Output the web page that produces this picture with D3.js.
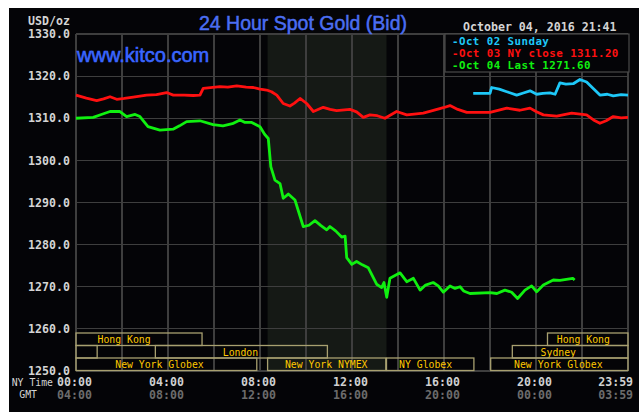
<!DOCTYPE html>
<html>
<head>
<meta charset="utf-8">
<script src="https://cdn.jsdelivr.net/npm/d3@7/dist/d3.min.js"></script>
<style>
  html, body { margin: 0; padding: 0; background: #ffffff; }
  svg { display: block; }
</style>
</head>
<body>
<svg id="chart" width="644" height="412"></svg>
<script>
// ---------------- DATA ----------------
const yTicks = [1250, 1260, 1270, 1280, 1290, 1300, 1310, 1320, 1330];
const gridHours = [0, 2, 4, 6, 8, 10, 12, 14, 16, 18, 20, 22, 24];
const labelHours = [0, 4, 8, 12, 16, 20, 23.983];
const nyTimeLabels = ["00:00", "04:00", "08:00", "12:00", "16:00", "20:00", "23:59"];
const gmtLabels = ["04:00", "08:00", "12:00", "16:00", "20:00", "00:00", "03:59"];

// [hour (NY time), price]
const oct02Sunday = [
  [17.27, 1315.9], [18.0, 1315.9], [18.07, 1317.3], [18.4, 1316.9], [18.73, 1316.3],
  [19.16, 1315.5], [19.45, 1316.0], [19.74, 1316.5], [20.03, 1315.7], [20.3, 1315.9],
  [20.61, 1316.0], [20.83, 1315.7], [21.04, 1318.4], [21.3, 1318.1], [21.62, 1318.2],
  [21.91, 1319.2], [22.2, 1318.6], [22.5, 1317.0], [22.78, 1315.5], [23.1, 1315.7],
  [23.36, 1315.3], [23.7, 1315.6], [24.0, 1315.5]
];
const oct03Close = [
  [0, 1315.5], [0.45, 1314.8], [0.9, 1314.2], [1.2, 1314.6], [1.48, 1315.1], [1.77, 1314.5],
  [2.1, 1314.7], [2.49, 1315.0], [3.07, 1315.5], [3.5, 1315.6], [3.94, 1316.1], [4.23, 1315.5],
  [4.7, 1315.5], [5.1, 1315.4], [5.39, 1315.5], [5.53, 1317.1], [6.26, 1317.5], [6.6, 1317.4],
  [6.99, 1317.7], [7.4, 1317.4], [7.71, 1317.3], [8.0, 1316.9], [8.29, 1316.7], [8.5, 1316.3],
  [8.73, 1315.5], [9.01, 1313.5], [9.3, 1312.9], [9.5, 1313.6], [9.74, 1314.7], [10.03, 1313.5],
  [10.32, 1311.6], [10.75, 1312.6], [11.05, 1312.1], [11.33, 1311.8], [11.91, 1312.1],
  [12.2, 1311.5], [12.49, 1310.2], [12.78, 1310.8], [13.1, 1310.6], [13.43, 1310.0],
  [13.94, 1311.6], [14.38, 1310.8], [14.7, 1311.0], [15.1, 1311.2], [15.5, 1311.8],
  [15.97, 1312.5], [16.26, 1313.0], [16.6, 1312.1], [16.99, 1311.4], [18.0, 1311.4],
  [18.73, 1312.4], [19.3, 1311.9], [19.74, 1312.4], [20.0, 1311.6], [20.32, 1310.8],
  [20.9, 1310.5], [21.55, 1311.2], [22.2, 1310.8], [22.5, 1309.6], [22.78, 1308.8],
  [23.05, 1309.4], [23.36, 1310.4], [23.7, 1310.1], [24.0, 1310.2]
];
const oct04Last = [
  [0, 1310.0], [0.75, 1310.2], [1.1, 1310.9], [1.48, 1311.6], [1.91, 1311.6], [2.2, 1310.4],
  [2.57, 1310.9], [2.78, 1310.4], [3.13, 1308.0], [3.65, 1307.2], [4.22, 1307.4], [4.5, 1308.2],
  [4.81, 1309.2], [5.39, 1309.4], [5.96, 1308.5], [6.39, 1308.2], [6.8, 1308.7], [7.13, 1309.6],
  [7.35, 1309.0], [7.64, 1309.0], [8.0, 1308.0], [8.2, 1306.2], [8.36, 1305.2], [8.47, 1298.5],
  [8.65, 1295.3], [8.87, 1294.5], [9.01, 1291.0], [9.23, 1292.0], [9.52, 1290.6], [9.88, 1284.3],
  [10.13, 1284.6], [10.39, 1285.7], [10.65, 1284.5], [10.9, 1283.5], [11.04, 1284.3],
  [11.3, 1283.2], [11.55, 1281.8], [11.7, 1282.0], [11.77, 1276.9], [11.99, 1275.3],
  [12.2, 1276.0], [12.45, 1275.2], [12.71, 1274.5], [13.07, 1270.6], [13.29, 1269.8],
  [13.39, 1271.0], [13.51, 1267.5], [13.65, 1272.0], [14.09, 1273.3], [14.38, 1271.2],
  [14.67, 1272.0], [14.96, 1269.2], [15.2, 1270.4], [15.53, 1271.0], [15.75, 1270.2],
  [15.97, 1268.7], [16.26, 1270.2], [16.48, 1269.6], [16.7, 1270.0], [16.85, 1269.0],
  [17.13, 1268.4], [18.0, 1268.6], [18.3, 1268.4], [18.65, 1269.2], [18.94, 1268.7],
  [19.2, 1267.2], [19.52, 1269.2], [19.81, 1270.2], [20.03, 1268.8], [20.32, 1270.4],
  [20.75, 1271.6], [21.04, 1271.5], [21.39, 1271.8], [21.6, 1272.0], [21.68, 1271.6]
];

// trading sessions: row 0 = top, 2 = bottom; start/end in NY hours; labelAt = centre of label
const sessionRows = [0, 0, 1, 1, 1, 2, 2, 2, 2];
const sessionStart = [0, 20.5, 0, 3.45, 18.97, 0, 8.33, 13.5, 18.03];
const sessionEnd = [5.48, 24, 0.92, 10.93, 24, 7.86, 13.47, 17.3, 24];
const sessionNames = ["Hong Kong", "Hong Kong", "", "London", "Sydney", "New York Globex", "New York NYMEX", "NY Globex", "New York Globex"];
const sessionLabelAt = [2.09, 22.06, 0, 7.15, 20.97, 3.63, 10.88, 15.2, 20.97];

const shadeStart = 8.33, shadeEnd = 13.5;

const legendLabels = ["-Oct 02 Sunday", "-Oct 03 NY close 1311.20", "-Oct 04 Last 1271.60"];
const seriesColors = ["#1ec8f8", "#ff1010", "#10f010"];

// ---------------- DRAW ----------------
const svg = d3.select("#chart");
const W = 644, H = 412;
const pLeft = 76, pRight = 628, pTop = 34, pBottom = 371;

const x = d3.scaleLinear().domain([0, 24]).range([pLeft, pRight]);
const y = d3.scaleLinear().domain([1250, 1330]).range([pBottom, pTop]);

const mono = "'DejaVu Sans Mono', 'Liberation Mono', monospace";
const sans = "'Liberation Sans', Arial, sans-serif";

// black panel
svg.append("rect").attr("x", 9).attr("y", 8).attr("width", 630).attr("height", H - 8).attr("fill", "#040407");

// NYMEX shading
svg.append("rect")
  .attr("x", x(shadeStart)).attr("y", pTop)
  .attr("width", x(shadeEnd) - x(shadeStart)).attr("height", pBottom - pTop)
  .attr("fill", "#151915");

// grid
const grid = svg.append("g").attr("stroke", "#3e3e3e").attr("stroke-width", 1.2).attr("shape-rendering", "crispEdges");
grid.selectAll("line.h").data(yTicks).join("line")
  .attr("x1", pLeft).attr("x2", pRight).attr("y1", d => y(d)).attr("y2", d => y(d));
grid.selectAll("line.v").data(gridHours).join("line")
  .attr("x1", d => x(d)).attr("x2", d => x(d)).attr("y1", pTop).attr("y2", pBottom);

// y axis labels
const yAxis = d3.axisLeft(y).tickValues(yTicks).tickSize(0).tickPadding(6).tickFormat(d3.format(".1f"));
const ya = svg.append("g").attr("transform", `translate(${pLeft},0)`).call(yAxis);
ya.select(".domain").remove();
ya.selectAll("text").attr("fill", "#d4d4d4").attr("font-family", mono).attr("font-weight", "bold").attr("font-size", "11.6px");

svg.append("text").attr("x", 70).attr("y", 25).attr("text-anchor", "end")
  .attr("fill", "#d4d4d4").attr("font-family", mono).attr("font-weight", "bold").attr("font-size", "11.6px").text("USD/oz");

// session boxes
const rowTop = [333, 345.5, 358];
const rowH = 12.5;
const sess = svg.append("g");
sessionRows.forEach((r, i) => {
  sess.append("rect")
    .attr("x", x(sessionStart[i])).attr("y", rowTop[r])
    .attr("width", x(sessionEnd[i]) - x(sessionStart[i])).attr("height", rowH)
    .attr("fill", "none").attr("stroke", "#a8a070").attr("stroke-width", 1.3);
  if (sessionNames[i]) {
    sess.append("text")
      .attr("x", x(sessionLabelAt[i])).attr("y", rowTop[r] + 10)
      .attr("text-anchor", "middle").attr("fill", "#ffc800")
      .attr("font-family", mono).attr("font-size", "9.8px").text(sessionNames[i]);
  }
});

// series lines
const line = d3.line().x(d => x(d[0])).y(d => y(d[1])).curve(d3.curveLinear);
[oct02Sunday, oct03Close, oct04Last].forEach((s, i) => {
  svg.append("path").datum(s).attr("d", line)
    .attr("fill", "none").attr("stroke", seriesColors[i]).attr("stroke-width", 2.8)
    .attr("stroke-linejoin", "round");
});

// x axis labels
const xAxisNY = d3.axisBottom(x).tickValues(labelHours).tickSize(0).tickPadding(0)
  .tickFormat((d, i) => nyTimeLabels[i]);
const xa = svg.append("g").attr("transform", "translate(-2,376)").call(xAxisNY);
xa.select(".domain").remove();
xa.selectAll("text").attr("fill", "#d0d0d0").attr("font-family", mono).attr("font-weight", "bold")
  .attr("font-size", "11.6px").attr("dy", "0.85em");
xa.selectAll(".tick").filter((d, i) => i === labelHours.length - 1).select("text").attr("text-anchor", "end").attr("dx", 7);

const xAxisGMT = d3.axisBottom(x).tickValues(labelHours).tickSize(0).tickPadding(0)
  .tickFormat((d, i) => gmtLabels[i]);
const xg = svg.append("g").attr("transform", "translate(-2,389)").call(xAxisGMT);
xg.select(".domain").remove();
xg.selectAll("text").attr("fill", "#6c6c6c").attr("font-family", mono).attr("font-weight", "bold")
  .attr("font-size", "11.6px").attr("dy", "0.85em");
xg.selectAll(".tick").filter((d, i) => i === labelHours.length - 1).select("text").attr("text-anchor", "end").attr("dx", 7);

svg.append("text").attr("x", 53).attr("y", 386).attr("text-anchor", "end")
  .attr("fill", "#d4d4d4").attr("font-family", mono).attr("font-size", "9.8px").text("NY Time");
svg.append("text").attr("x", 37).attr("y", 398).attr("text-anchor", "end")
  .attr("fill", "#d4d4d4").attr("font-family", mono).attr("font-size", "9.8px").text("GMT");

// title & branding
svg.append("text").attr("x", 303).attr("y", 30).attr("text-anchor", "middle")
  .attr("fill", "#4b6ef2").attr("stroke", "#4b6ef2").attr("stroke-width", 0.5)
  .attr("font-family", sans).attr("font-size", "19.5px").text("24 Hour Spot Gold (Bid)");
svg.append("text").attr("x", 77).attr("y", 62)
  .attr("fill", "#3a66ff").attr("stroke", "#3a66ff").attr("stroke-width", 0.6)
  .attr("font-family", sans).attr("font-size", "20px").text("www.kitco.com");

// date stamp
svg.append("text").attr("x", 463).attr("y", 31)
  .attr("fill", "#d4d4d4").attr("font-family", mono).attr("font-weight", "bold").attr("font-size", "11.6px")
  .text("October 04, 2016 21:41");

// legend
svg.append("rect").attr("x", 445).attr("y", 34).attr("width", 184).attr("height", 38)
  .attr("fill", "#040407").attr("stroke", "#4a4a4a").attr("stroke-width", 1.2);
legendLabels.forEach((t, i) => {
  svg.append("text").attr("x", 452).attr("y", 45 + i * 12)
    .attr("fill", seriesColors[i]).attr("font-family", mono).attr("font-weight", "bold")
    .attr("font-size", "10.8px").attr("letter-spacing", "0.45px").text(t);
});
</script>
</body>
</html>
